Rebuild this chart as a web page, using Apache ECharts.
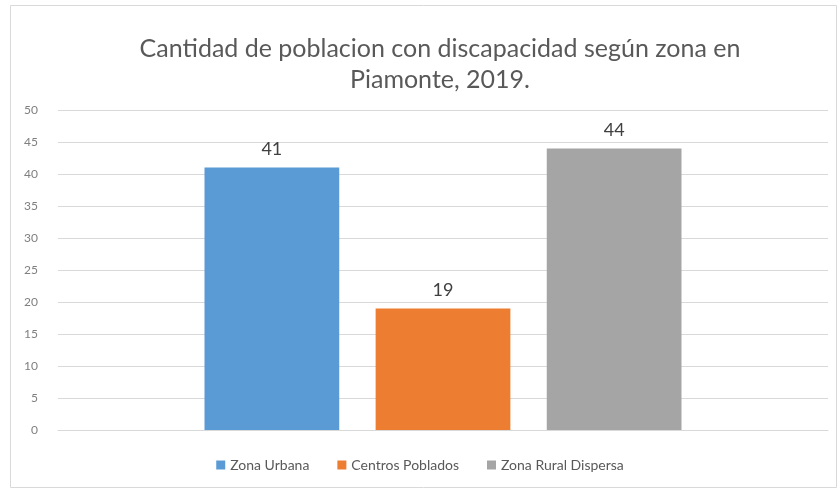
<!DOCTYPE html>
<html>
<head>
<meta charset="UTF-8">
<title>ECharts</title>
<script src="https://cdn.jsdelivr.net/npm/echarts@6/dist/echarts.min.js"></script>
<style>
  html, body { margin: 0; padding: 0; background: #fff; }
  #main { width: 840px; height: 494px; }
</style>
</head>
<body>
<div id="main"></div>
<script>
// datos
var categories = ['Piamonte'];
var seriesNames = ['Zona Urbana', 'Centros Poblados', 'Zona Rural Dispersa'];
var seriesValues = [[41], [19], [44]];
var colors = ['#5B9BD5', '#ED7D31', '#A5A5A5'];

var myChart = echarts.init(document.getElementById('main'));

var series = [];
for (var i = 0; i < seriesNames.length; i++) {
  series.push({
    name: seriesNames[i],
    type: 'bar',
    data: seriesValues[i],
    barWidth: '17.5%',
    barGap: '27%',
    itemStyle: { color: colors[i] },
    label: {
      show: true,
      position: 'top',
      distance: 9,
      color: '#404040',
      fontSize: 18,
      fontFamily: 'Lato'
    }
  });
}

var option = {
  backgroundColor: '#fff',
  color: colors,
  animation: false,
  graphic: [{
    type: 'rect',
    shape: { x: 10.5, y: 5.5, width: 826, height: 482 },
    style: { fill: 'none', stroke: '#d9d9d9', lineWidth: 1 },
    silent: true
  }],
  title: {
    text: 'Cantidad de poblacion con discapacidad según zona en\nPiamonte, 2019.',
    left: 435,
    textAlign: 'center',
    top: 28,
    textStyle: {
      color: '#595959',
      fontSize: 25,
      fontWeight: 'normal',
      fontFamily: 'Lato',
      lineHeight: 31
    }
  },
  legend: {
    bottom: 17,
    left: 'center',
    itemWidth: 9,
    itemHeight: 9,
    itemGap: 28,
    itemStyle: { borderWidth: 0 },
    icon: 'rect',
    textStyle: { color: '#595959', fontSize: 14, fontFamily: 'Lato' },
    data: seriesNames
  },
  grid: { left: 58, right: 12, top: 110, bottom: 64, containLabel: false },
  xAxis: {
    type: 'category',
    data: categories,
    axisLine: { lineStyle: { color: '#d9d9d9' } },
    axisTick: { show: false },
    axisLabel: { show: false }
  },
  yAxis: {
    type: 'value',
    min: 0,
    max: 50,
    interval: 5,
    axisLine: { show: false },
    axisTick: { show: false },
    axisLabel: { color: '#7f7f7f', fontSize: 12, fontFamily: 'Lato', margin: 20 },
    splitLine: { lineStyle: { color: '#d9d9d9' } }
  },
  series: series
};

myChart.setOption(option);
</script>
</body>
</html>
